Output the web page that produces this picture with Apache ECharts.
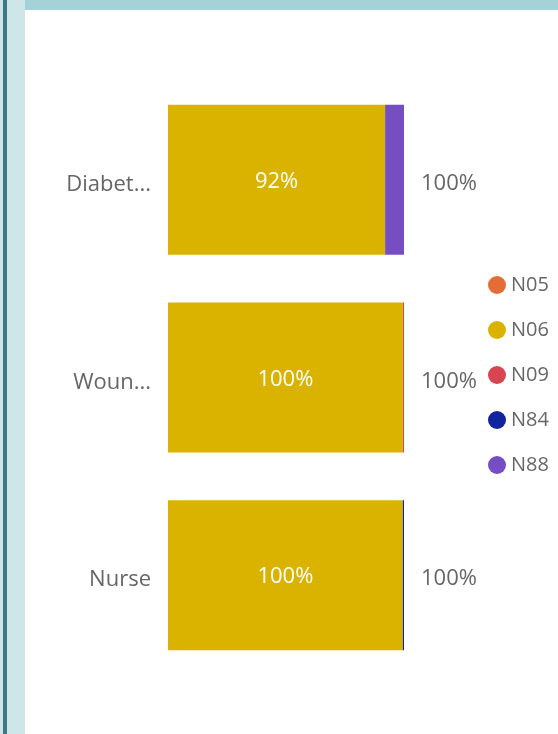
<!DOCTYPE html>
<html>
<head>
    <meta http-equiv="Content-Type" content="text/html; charset=UTF-8" />
    <title>Chart</title>
    <script src="https://cdn.jsdelivr.net/npm/echarts@6/dist/echarts.min.js"></script>
    <style>
        html, body { margin: 0; padding: 0; background: #fff; }
        #main { width: 558px; height: 734px; }
    </style>
</head>
<body>
<div id="main"></div>
<script type="text/javascript">
    // 数据
    var categories = ['Diabetes', 'Wound Care', 'Nurse'];
    var seriesNames = ['N05', 'N06', 'N09', 'N84', 'N88'];
    var n05 = [0, 0, 0];
    var n06 = [92, 99.5, 99.5];
    var n09 = [0, 0.5, 0];
    var n84 = [0, 0, 0.5];
    var n88 = [8, 0, 0];
    var totals = [100, 100, 100];
    var colors = ['#E66C37', '#D9B300', '#D64550', '#12239E', '#744EC2'];

    var myChart = echarts.init(document.getElementById('main'));
    var font = '"Segoe UI", "Open Sans", sans-serif';

    var values = [n05, n06, n09, n84, n88];
    var series = seriesNames.map(function (name, i) {
        return {
            name: name,
            type: 'bar',
            stack: 'total',
            barWidth: 150,
            data: values[i],
            itemStyle: { color: colors[i] },
            label: {
                show: name === 'N06',
                position: 'inside',
                color: '#fff',
                fontSize: 22,
                fontFamily: font,
                offset: [0, 2],
                formatter: function (p) { return Math.round(p.value) + '%'; }
            }
        };
    });
    // 总计标签
    series.push({
        name: 'total',
        type: 'bar',
        stack: 'total',
        barWidth: 150,
        data: totals.map(function () { return 0; }),
        itemStyle: { color: 'transparent' },
        label: {
            show: true,
            position: 'right',
            distance: 17,
            offset: [0, 4],
            color: '#666',
            fontSize: 22,
            fontFamily: font,
            formatter: function (p) { return totals[p.dataIndex] + '%'; }
        }
    });

    var option = {
        animation: false,
        color: colors,
        graphic: [
            { type: 'rect', left: 0, top: 0, shape: { width: 25, height: 734 }, style: { fill: '#CFE6E8' } },
            { type: 'rect', left: 3, top: 0, shape: { width: 4, height: 734 }, style: { fill: '#3A7A80' } },
            { type: 'rect', left: 25, top: 0, shape: { width: 533, height: 10 }, style: { fill: '#A5D1D8' } }
        ],
        legend: {
            data: seriesNames,
            orient: 'vertical',
            left: 483,
            top: 270,
            icon: 'circle',
            itemWidth: 18,
            itemHeight: 18,
            itemGap: 25,
            textStyle: { color: '#666', fontSize: 20, fontFamily: font }
        },
        grid: { left: 168, right: 154, top: 81, bottom: 60 },
        xAxis: {
            type: 'value',
            min: 0,
            max: 100,
            show: false
        },
        yAxis: {
            type: 'category',
            data: categories,
            inverse: true,
            axisLine: { show: false },
            axisTick: { show: false },
            axisLabel: {
                color: '#666',
                fontSize: 22,
                fontFamily: font,
                margin: 17,
                width: 88,
                overflow: 'truncate',
                ellipsis: '...',
                formatter: '{a|{value}}',
                rich: {
                    a: { fontSize: 22, fontFamily: font, color: '#666', padding: [10, 0, 0, 0] }
                }
            }
        },
        series: series
    };

    myChart.setOption(option);
</script>
</body>
</html>
